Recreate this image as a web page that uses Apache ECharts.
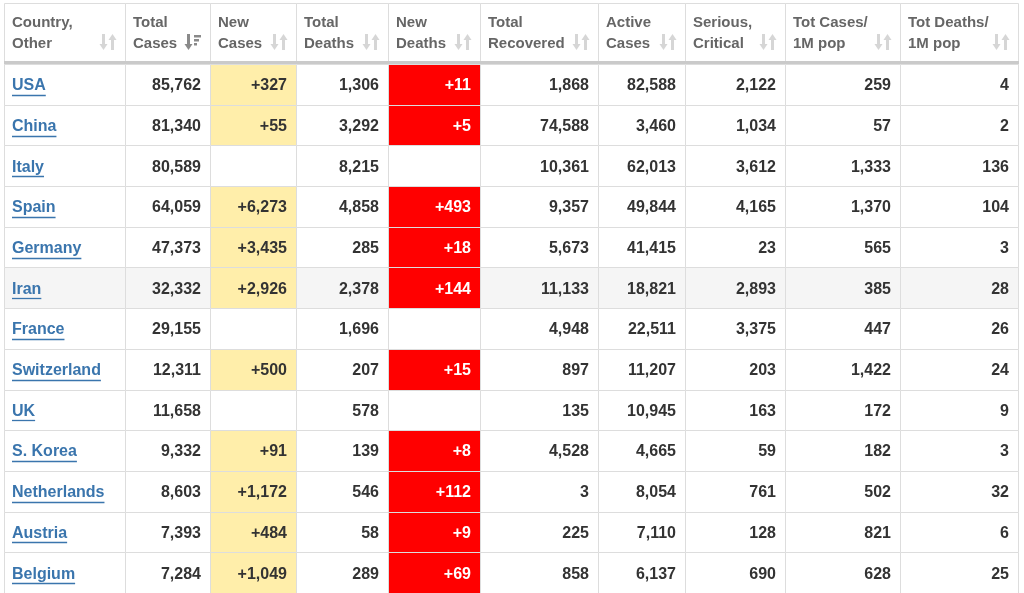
<!DOCTYPE html>
<html>
<head>
<meta charset="utf-8">
<script src="https://cdn.jsdelivr.net/npm/echarts@6/dist/echarts.min.js"></script>
<style>
  html, body { margin: 0; padding: 0; background: #fff; }
  #main { width: 1024px; height: 593px; }
</style>
</head>
<body>
<div id="main"></div>
<script>
// 表格数据
const countries = ['USA', 'China', 'Italy', 'Spain', 'Germany', 'Iran', 'France', 'Switzerland', 'UK', 'S. Korea', 'Netherlands', 'Austria', 'Belgium'];
const totalCases = [85762, 81340, 80589, 64059, 47373, 32332, 29155, 12311, 11658, 9332, 8603, 7393, 7284];
const newCases = [327, 55, null, 6273, 3435, 2926, null, 500, null, 91, 1172, 484, 1049];
const totalDeaths = [1306, 3292, 8215, 4858, 285, 2378, 1696, 207, 578, 139, 546, 58, 289];
const newDeaths = [11, 5, null, 493, 18, 144, null, 15, null, 8, 112, 9, 69];
const totalRecovered = [1868, 74588, 10361, 9357, 5673, 11133, 4948, 897, 135, 4528, 3, 225, 858];
const activeCases = [82588, 3460, 62013, 49844, 41415, 18821, 22511, 11207, 10945, 4665, 8054, 7110, 6137];
const seriousCritical = [2122, 1034, 3612, 4165, 23, 2893, 3375, 203, 163, 59, 761, 128, 690];
const casesPerMillion = [259, 57, 1333, 1370, 565, 385, 447, 1422, 172, 182, 502, 821, 628];
const deathsPerMillion = [4, 2, 136, 104, 3, 28, 26, 24, 9, 3, 32, 6, 25];

// 表头文字
const headerLines = [
    ['Country,', 'Other'],
    ['Total', 'Cases'],
    ['New', 'Cases'],
    ['Total', 'Deaths'],
    ['New', 'Deaths'],
    ['Total', 'Recovered'],
    ['Active', 'Cases'],
    ['Serious,', 'Critical'],
    ['Tot Cases/', '1M pop'],
    ['Tot Deaths/', '1M pop']
];

// 布局
const colEdges = [4, 125, 210, 296, 388, 480, 598, 685, 785, 900, 1018];
const rowHeight = 40.75;
const hoverRow = 5;
const font = '"Liberation Sans", Arial, sans-serif';

const columns = [null, totalCases, newCases, totalDeaths, newDeaths, totalRecovered, activeCases, seriousCritical, casesPerMillion, deathsPerMillion];

const fmt = v => v.toLocaleString('en-US');

const measureCtx = document.createElement('canvas').getContext('2d');
measureCtx.font = 'bold 16px ' + font;

function cellText(c, r) {
    if (c === 0) return countries[r];
    const v = columns[c][r];
    if (v === null) return '';
    if (c === 2 || c === 4) return '+' + fmt(v);
    return fmt(v);
}

const bodyData = [];
countries.forEach((name, r) => {
    for (let c = 0; c < 10; c++) {
        bodyData.push([colEdges[c], r, c]);
    }
});
const headData = headerLines.map((_, c) => [colEdges[c], 0, c]);

function cellBox(api) {
    const c = api.value(2);
    const r = api.value(1);
    const p0 = api.coord([colEdges[c], r]);
    const p1 = api.coord([colEdges[c + 1], r]);
    const h = api.size([0, 1])[1];
    return { c, r, x: p0[0], x2: p1[0], y: p0[1] - h / 2, h, cy: p0[1] };
}

function renderBody(params, api) {
    const b = cellBox(api);
    const txt = cellText(b.c, b.r);
    let fill = b.r === hoverRow ? '#f5f5f5' : '#fff';
    let color = '#333';
    if (b.c === 2 && txt) fill = '#ffeeaa';
    if (b.c === 4 && txt) { fill = '#ff0000'; color = '#fff'; }
    const ty = b.cy + 1.5;
    const children = [{
        type: 'rect',
        shape: { x: Math.round(b.x) + 0.5, y: Math.round(b.y) + 0.5, width: Math.round(b.x2) - Math.round(b.x), height: Math.round(b.y + b.h) - Math.round(b.y) },
        style: { fill: fill, stroke: '#ddd', lineWidth: 1 }
    }];
    if (b.c === 0) {
        const w = measureCtx.measureText(txt).width;
        children.push({
            type: 'text',
            style: { x: b.x + 8, y: ty, text: txt, fill: '#3a75ad', font: 'bold 16px ' + font, textAlign: 'left', textVerticalAlign: 'middle' }
        }, {
            type: 'line',
            shape: { x1: b.x + 8, y1: Math.round(ty + 9) + 0.5, x2: b.x + 8 + w, y2: Math.round(ty + 9) + 0.5 },
            style: { stroke: '#3a75ad', lineWidth: 1.3 }
        });
    } else if (txt) {
        children.push({
            type: 'text',
            style: { x: b.x2 - 9, y: ty, text: txt, fill: color, font: 'bold 16px ' + font, textAlign: 'right', textVerticalAlign: 'middle' }
        });
    }
    return { type: 'group', children: children };
}

// 排序图标
function sortIcon(right, top, sorted) {
    const col = sorted ? '#8a8a8a' : '#d6d6d6';
    const out = [];
    const dx = right - 17;
    // 向下箭头
    out.push({ type: 'rect', shape: { x: dx + 2, y: top, width: 3, height: 12 }, style: { fill: col } });
    out.push({ type: 'polygon', shape: { points: [[dx - 0.5, top + 10], [dx + 7.5, top + 10], [dx + 3.5, top + 16]] }, style: { fill: col } });
    if (sorted) {
        const bars = [7, 5, 3];
        bars.forEach((w, i) => {
            out.push({ type: 'rect', shape: { x: dx + 9, y: top + 1 + i * 4, width: w, height: 2.5 }, style: { fill: col } });
        });
    } else {
        const ux = dx + 9;
        out.push({ type: 'polygon', shape: { points: [[ux - 0.5, top + 6], [ux + 7.5, top + 6], [ux + 3.5, top]] }, style: { fill: col } });
        out.push({ type: 'rect', shape: { x: ux + 2, y: top + 4, width: 3, height: 12 }, style: { fill: col } });
    }
    return out;
}

function renderHead(params, api) {
    const b = cellBox(api);
    const lines = headerLines[b.c];
    const children = [{
        type: 'rect',
        shape: { x: Math.round(b.x) + 0.5, y: Math.round(b.y) + 0.5, width: Math.round(b.x2) - Math.round(b.x), height: b.h },
        style: { fill: '#fff', stroke: '#ddd', lineWidth: 1 }
    }, {
        type: 'text',
        style: { x: b.x + 8, y: b.y + 20, text: lines[0], fill: '#666', font: 'bold 15px ' + font, textVerticalAlign: 'middle' }
    }, {
        type: 'text',
        style: { x: b.x + 8, y: b.y + 41, text: lines[1], fill: '#666', font: 'bold 15px ' + font, textVerticalAlign: 'middle' }
    }, {
        type: 'line',
        shape: { x1: b.x, y1: b.y + b.h - 1.5, x2: b.x2 + 1, y2: b.y + b.h - 1.5 },
        style: { stroke: '#cacaca', lineWidth: 3 }
    }];
    return { type: 'group', children: children.concat(sortIcon(b.x2 - 8, b.y + 31, b.c === 1)) };
}

const chart = echarts.init(document.getElementById('main'));
chart.setOption({
    animation: false,
    grid: [
        { left: 0, right: 0, top: 3, height: 61 },
        { left: 0, right: 0, top: 64, height: rowHeight * countries.length }
    ],
    xAxis: [
        { gridIndex: 0, type: 'value', min: 0, max: 1024, show: false },
        { gridIndex: 1, type: 'value', min: 0, max: 1024, show: false }
    ],
    yAxis: [
        { gridIndex: 0, type: 'category', data: ['header'], show: false },
        { gridIndex: 1, type: 'category', data: countries, inverse: true, show: false }
    ],
    series: [
        { type: 'custom', xAxisIndex: 1, yAxisIndex: 1, data: bodyData, renderItem: renderBody, clip: false, silent: true },
        { type: 'custom', xAxisIndex: 0, yAxisIndex: 0, data: headData, renderItem: renderHead, clip: false, silent: true }
    ]
});
</script>
</body>
</html>
